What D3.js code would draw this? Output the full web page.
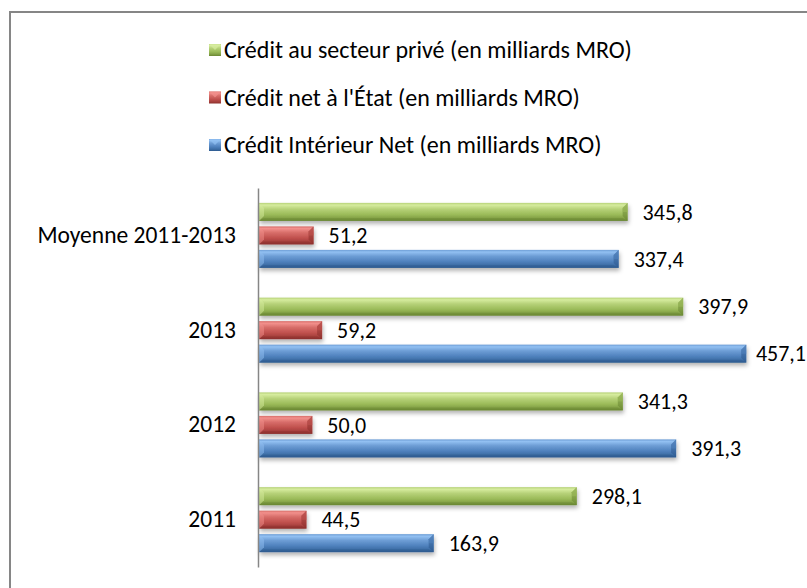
<!DOCTYPE html>
<html><head><meta charset="utf-8">
<script src="https://cdn.jsdelivr.net/npm/d3@7/dist/d3.min.js"></script>
<style>
html,body{margin:0;padding:0;background:#fff;overflow:hidden}
text{font-family:Carlito,Calibri,Lato,sans-serif;fill:#000}
</style></head>
<body><svg id="chart" width="807" height="588"></svg>
<script>
const categories = ["2011", "2012", "2013", "Moyenne 2011-2013"];
const seriesNames = [
  "Crédit au secteur privé (en milliards MRO)",
  "Crédit net à l'État (en milliards MRO)",
  "Crédit Intérieur Net (en milliards MRO)"
];
const creditPrive = [298.1, 341.3, 397.9, 345.8];
const creditEtat = [44.5, 50.0, 59.2, 51.2];
const creditInterieur = [163.9, 391.3, 457.1, 337.4];
const seriesColors = ["#9BBB59", "#C0504D", "#4F81BD"];
const seriesLight = ["#d6ec9e", "#f2908c", "#92c0f2"];
const seriesDark = ["#6a8733", "#8c2f2c", "#2d5a8f"];

const seriesValues = [creditPrive, creditEtat, creditInterieur];
const W = 807, H = 588;
const svg = d3.select("#chart");
const defs = svg.append("defs");

seriesColors.forEach((c, i) => {
  const g = defs.append("linearGradient").attr("id", "grad" + i)
    .attr("x1", 0).attr("y1", 0).attr("x2", 0).attr("y2", 1);
  [[0, d3.interpolateRgb(seriesColors[i], seriesLight[i])(0.45)],
   [0.12, seriesLight[i]],
   [0.35, d3.interpolateRgb(seriesColors[i], seriesLight[i])(0.45)],
   [0.65, seriesColors[i]],
   [0.85, d3.interpolateRgb(seriesColors[i], seriesDark[i])(0.5)],
   [1, seriesDark[i]]].forEach(([o, col]) =>
    g.append("stop").attr("offset", o).attr("stop-color", col));
});
const f = defs.append("filter").attr("id", "shadow")
  .attr("x", "-5%").attr("y", "-40%").attr("width", "115%").attr("height", "200%");
f.append("feDropShadow").attr("dx", 1).attr("dy", 3).attr("stdDeviation", 2)
  .attr("flood-color", "#000").attr("flood-opacity", 0.3);

svg.append("rect").attr("x", 10).attr("y", 12).attr("width", 1000).attr("height", 1000)
  .attr("fill", "none").attr("stroke", "#868686").attr("stroke-width", 2);

const x = d3.scaleLinear().domain([0, 500]).range([259, 792]);
const y = d3.scaleBand().domain(categories.slice().reverse()).range([188, 567]);
const ys = d3.scalePoint().domain([0, 1, 2]).range([-23.5, 23.5]);
const barH = 18;
const fmt = d3.formatLocale({decimal: ",", thousands: " ", grouping: [3], currency: ["", ""]}).format(".1f");

const bevel = 5;
categories.forEach((cat, ci) => {
  seriesValues.forEach((vals, si) => {
    const v = vals[ci];
    const cy = y(cat) + y.bandwidth() / 2 + ys(si);
    const x0 = x(0), x1 = x(v), y0 = cy - barH / 2, y1 = cy + barH / 2;
    const g = svg.append("g");
    g.append("rect").attr("x", x0).attr("y", y0).attr("width", x1 - x0).attr("height", barH)
      .attr("fill", "url(#grad" + si + ")").attr("filter", "url(#shadow)");
    g.append("path")
      .attr("d", `M${x1 - bevel},${y0 + bevel}L${x1},${y0}L${x1},${y1}L${x1 - bevel},${y1 - bevel}Z`)
      .attr("fill", seriesDark[si]).attr("opacity", 0.55);
    g.append("path")
      .attr("d", `M${x1 - bevel},${y0 + bevel}L${x1},${y0}L${x1},${cy}L${x1 - bevel},${cy}Z`)
      .attr("fill", seriesColors[si]).attr("opacity", 0.6);
    g.append("path")
      .attr("d", `M${x0},${y0}L${x0 + bevel},${y0 + bevel}L${x0 + bevel},${y1 - bevel}L${x0},${y1}Z`)
      .attr("fill", seriesLight[si]).attr("opacity", 0.5);
    g.append("path")
      .attr("d", `M${x0},${y1}L${x0 + bevel},${y1 - bevel * 0.6}L${x1 - bevel},${y1 - bevel * 0.6}L${x1},${y1}Z`)
      .attr("fill", seriesDark[si]).attr("opacity", 0.4);
    const t = svg.append("text").attr("x", x1 + 15).attr("y", cy).attr("dy", "0.35em")
      .style("font-size", "22px").text(fmt(v));
    const tw = t.node().getComputedTextLength();
    if (x1 + 15 + tw > W - 1) t.attr("x", Math.max(x1 + 3, W - 1 - tw));
  });
});

const axis = d3.axisLeft(y).tickSize(0).tickPadding(22);
const ag = svg.append("g").attr("transform", `translate(${x(0) - 1},0)`).call(axis);
ag.select(".domain").attr("stroke", "#868686").attr("stroke-width", 1.5);
ag.selectAll(".tick text").style("font-size", "23.5px")
  .style("font-family", "Carlito,Calibri,Lato,sans-serif").attr("fill", "#000");

const legendY = d3.scalePoint().domain([0, 1, 2]).range([50, 145]);
seriesNames.forEach((name, i) => {
  const cy = legendY(i);
  const g = svg.append("g");
  g.append("rect").attr("x", 209).attr("y", cy - 6).attr("width", 12).attr("height", 12)
    .attr("fill", "url(#grad" + i + ")");
  g.append("path").attr("d", `M209,${cy - 6}L215,${cy}L221,${cy - 6}Z`)
    .attr("fill", seriesLight[i]).attr("opacity", 0.7);
  g.append("text").attr("x", 224).attr("y", cy).attr("dy", "0.35em")
    .style("font-size", "24px").text(name);
});
</script></body></html>
